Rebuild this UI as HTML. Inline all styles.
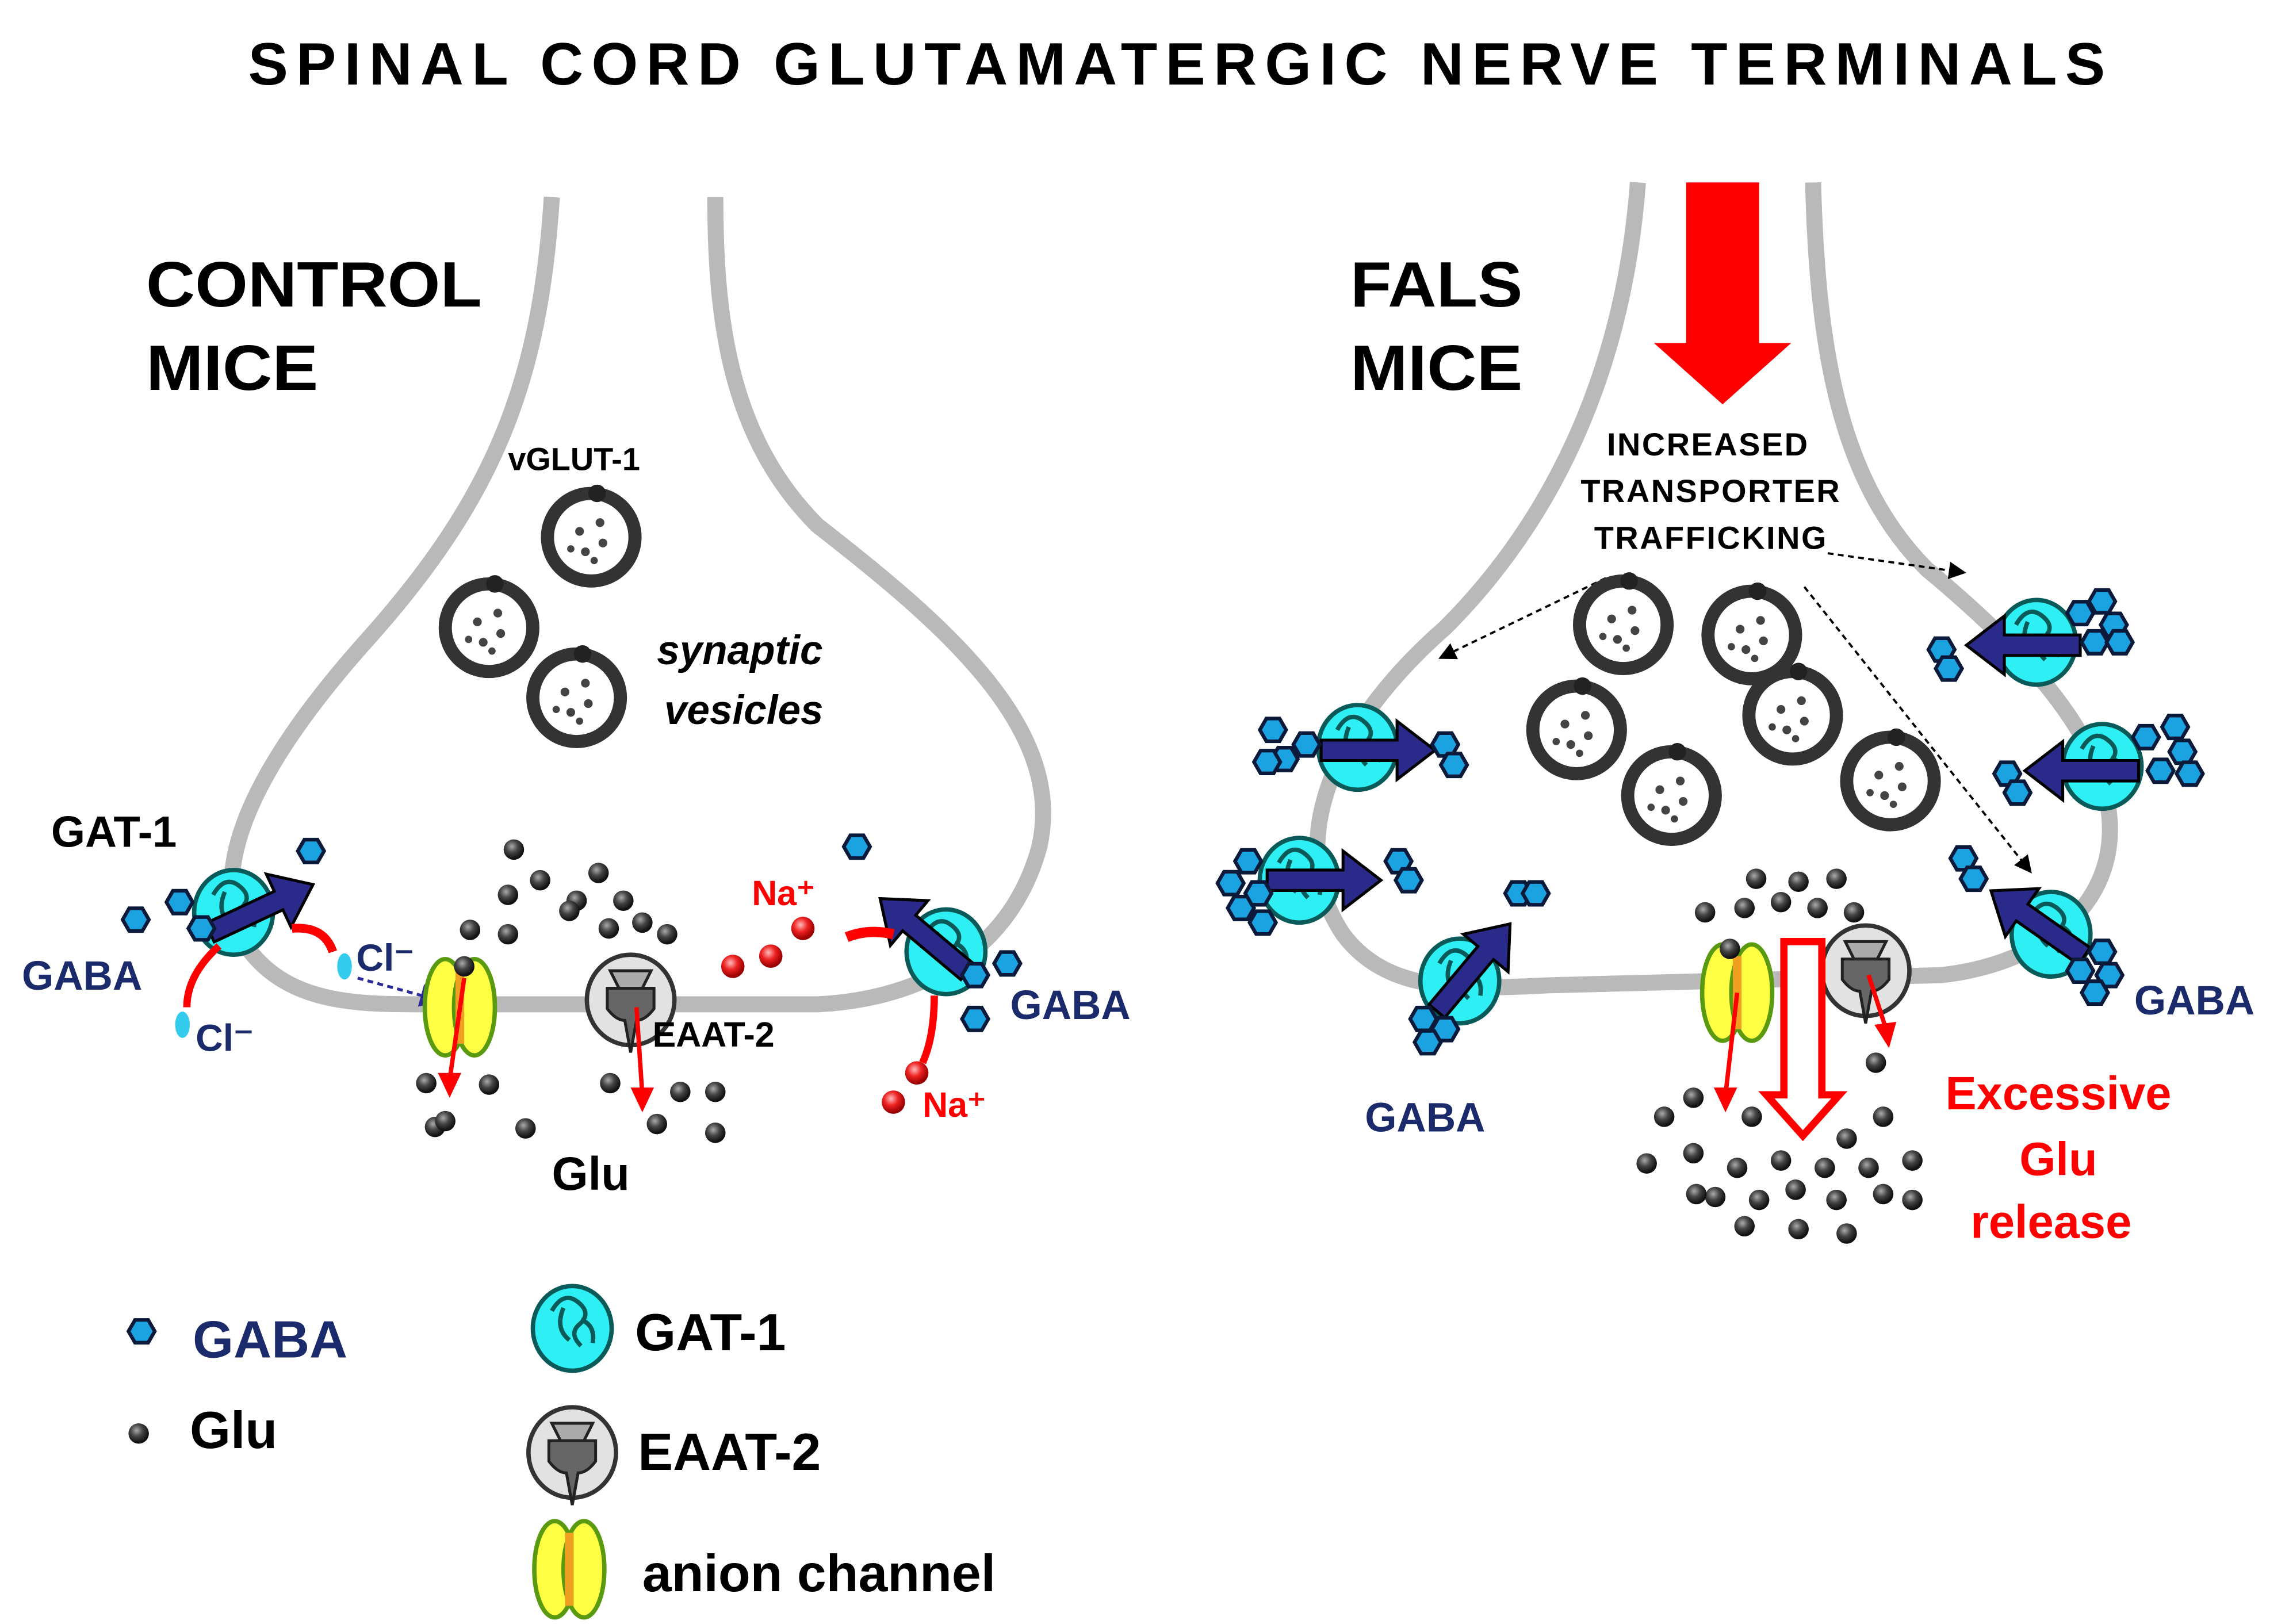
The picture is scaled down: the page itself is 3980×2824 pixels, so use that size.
<!DOCTYPE html>
<html><head><meta charset="utf-8"><style>
html,body{margin:0;padding:0;background:#fff}
svg{display:block}
text{font-family:"Liberation Sans",Arial,sans-serif;font-weight:bold}
</style></head><body>
<svg width="3980" height="2824" viewBox="0 0 1568 1112.5" preserveAspectRatio="none" xmlns="http://www.w3.org/2000/svg">
<defs>
<radialGradient id="gg" cx="40%" cy="35%" r="60%"><stop offset="0" stop-color="#aaa"/><stop offset="0.5" stop-color="#444"/><stop offset="1" stop-color="#111"/></radialGradient>
<radialGradient id="rg" cx="40%" cy="35%" r="60%"><stop offset="0" stop-color="#fbb"/><stop offset="0.5" stop-color="#e22"/><stop offset="1" stop-color="#900"/></radialGradient>
<g id="glu"><circle r="7" fill="url(#gg)"/></g>
<g id="na"><circle r="8" fill="url(#rg)"/></g>
<g id="gaba"><polygon points="9,0 4.5,7.8 -4.5,7.8 -9,0 -4.5,-7.8 4.5,-7.8" fill="#1aa3e0" stroke="#0b1a3a" stroke-width="2.5"/></g>
<g id="gat"><ellipse rx="27" ry="29" fill="#2ef0f4" stroke="#0a5a5a" stroke-width="3"/>
<path d="M-14,-12 q8,-14 18,-6 q10,8 0,16 q-6,6 2,14 M-6,-14 q-6,14 4,22 M6,-6 q10,4 8,16" fill="none" stroke="#0a5a5a" stroke-width="3"/></g>
<g id="eaat"><ellipse rx="30" ry="31" fill="#e2e2e2" stroke="#333" stroke-width="3"/>
<path d="M-14,-20 h28 l-6,12 h-16 z" fill="#aaa" stroke="#222" stroke-width="2"/>
<path d="M-16,-8 h32 v14 q-6,8 -12,8 l-4,22 l-4,-22 q-6,0 -12,-8 z" fill="#666" stroke="#222" stroke-width="2"/></g>
<g id="anion"><ellipse cx="-10" rx="14" ry="33" fill="#ffff44" stroke="#5a9a10" stroke-width="3"/><ellipse cx="10" rx="14" ry="33" fill="#ffff44" stroke="#5a9a10" stroke-width="3"/><rect x="-3" y="-25" width="6" height="50" fill="#f0a020"/></g>
<g id="ves"><circle r="30" fill="#fff" stroke="#333" stroke-width="9"/>
<circle cx="-8" cy="-4" r="3" fill="#444"/><circle cx="6" cy="-10" r="3" fill="#444"/><circle cx="8" cy="4" r="3" fill="#444"/><circle cx="-4" cy="10" r="3" fill="#444"/><circle cx="-14" cy="8" r="2.5" fill="#444"/><circle cx="2" cy="16" r="2.5" fill="#444"/>
<circle cx="4" cy="-30" r="6" fill="#222"/></g>
<marker id="ah" markerWidth="8" markerHeight="8" refX="6" refY="4" orient="auto"><path d="M0,0 L8,4 L0,8 z" fill="#000"/></marker>
<marker id="ahb" markerWidth="8" markerHeight="8" refX="6" refY="4" orient="auto"><path d="M0,0 L8,4 L0,8 z" fill="#2a2a9a"/></marker>
<g id="darr"><path d="M-40,-7 h52 v-13 l26,20 l-26,20 v-13 h-52 z" fill="#2a2a8a" stroke="#000" stroke-width="2"/></g>
</defs>

<text x="170" y="58" font-size="41" textLength="1272" lengthAdjust="spacing">SPINAL   CORD   GLUTAMATERGIC  NERVE   TERMINALS</text>

<path d="M378,135 C370,260 340,340 250,440 C170,530 140,600 170,650 C200,690 250,688 300,688 L560,688 C620,685 690,660 712,580 C730,500 650,430 560,360 C500,300 490,220 490,135" fill="none" stroke="#b9b9b9" stroke-width="11"/>
<path d="M1122,125 C1112,260 1060,360 990,430 C910,500 880,580 920,640 C950,680 1000,678 1060,675 L1330,668 C1400,660 1450,620 1445,560 C1440,500 1380,440 1320,390 C1260,330 1245,240 1242,125" fill="none" stroke="#b9b9b9" stroke-width="11"/>

<text x="100" y="210" font-size="44" textLength="230" lengthAdjust="spacingAndGlyphs">CONTROL</text>
<text x="100" y="267" font-size="44" textLength="118" lengthAdjust="spacingAndGlyphs">MICE</text>
<text x="925" y="210" font-size="44" textLength="118" lengthAdjust="spacingAndGlyphs">FALS</text>
<text x="925" y="267" font-size="44" textLength="118" lengthAdjust="spacingAndGlyphs">MICE</text>

<text x="348" y="322" font-size="22" style="font-weight:600">vGLUT-1</text>
<use href="#ves" x="405" y="368"/><use href="#ves" x="335" y="430"/><use href="#ves" x="395" y="478"/>
<text x="450" y="455" font-size="28" font-style="italic">synaptic</text>
<text x="455" y="496" font-size="28" font-style="italic">vesicles</text>

<text x="35" y="580" font-size="30">GAT-1</text>
<use href="#gat" x="160" y="625"/>
<g transform="translate(180,622) rotate(-25)"><use href="#darr"/></g>
<use href="#gaba" x="213" y="583"/><use href="#gaba" x="93" y="630"/><use href="#gaba" x="123" y="618"/><use href="#gaba" x="138" y="636"/>
<text x="15" y="678" font-size="28" fill="#1a2a6a">GABA</text>
<path d="M200,636 Q222,634 228,652" fill="none" stroke="#f00" stroke-width="6"/>
<path d="M150,648 Q128,668 128,690" fill="none" stroke="#f00" stroke-width="5"/>
<ellipse cx="236" cy="662" rx="5" ry="9" fill="#33ccee"/><text x="244" y="665" font-size="26" font-weight="normal" fill="#1a2a6a">Cl⁻</text>
<ellipse cx="125" cy="702" rx="5" ry="9" fill="#33ccee"/><text x="134" y="720" font-size="26" font-weight="normal" fill="#1a2a6a">Cl⁻</text>
<path d="M245,670 L300,685" stroke="#2a2a9a" stroke-width="2" stroke-dasharray="4,3" marker-end="url(#ahb)"/>

<use href="#anion" x="315" y="690"/>
<use href="#glu" x="318" y="662"/>
<path d="M318,670 L308,740" stroke="#f00" stroke-width="3"/><path d="M300,735 L308,752 L316,735 z" fill="#f00"/>
<use href="#eaat" x="432" y="685"/>
<path d="M436,690 L440,750" stroke="#f00" stroke-width="3"/><path d="M432,745 L440,762 L448,745 z" fill="#f00"/>
<text x="447" y="717" font-size="24" style="font-weight:600">EAAT-2</text>

<g>
<use href="#glu" x="352" y="582"/><use href="#glu" x="322" y="637"/><use href="#glu" x="348" y="613"/><use href="#glu" x="370" y="603"/><use href="#glu" x="395" y="617"/><use href="#glu" x="410" y="598"/><use href="#glu" x="427" y="617"/><use href="#glu" x="348" y="640"/><use href="#glu" x="417" y="636"/><use href="#glu" x="440" y="632"/><use href="#glu" x="457" y="640"/><use href="#glu" x="390" y="624"/>
<use href="#glu" x="292" y="742"/><use href="#glu" x="335" y="743"/><use href="#glu" x="418" y="742"/><use href="#glu" x="466" y="748"/><use href="#glu" x="490" y="748"/><use href="#glu" x="298" y="772"/><use href="#glu" x="305" y="768"/><use href="#glu" x="360" y="773"/><use href="#glu" x="450" y="770"/><use href="#glu" x="490" y="776"/>
</g>
<text x="378" y="815" font-size="32">Glu</text>

<use href="#gat" x="648" y="652"/>
<g transform="translate(632,640) rotate(-140)"><use href="#darr"/></g>
<use href="#gaba" x="587" y="580"/><use href="#gaba" x="690" y="660"/><use href="#gaba" x="668" y="698"/><use href="#gaba" x="668" y="668"/>
<text x="692" y="698" font-size="28" fill="#1a2a6a">GABA</text>
<text x="515" y="620" font-size="24" font-weight="normal" fill="#f00">Na⁺</text>
<use href="#na" x="550" y="636"/><use href="#na" x="528" y="655"/><use href="#na" x="502" y="662"/>
<path d="M612,640 Q595,636 580,642" fill="none" stroke="#f00" stroke-width="7"/>
<path d="M640,682 Q640,710 632,728" fill="none" stroke="#f00" stroke-width="5"/>
<use href="#na" x="628" y="735"/><use href="#na" x="612" y="755"/>
<text x="632" y="765" font-size="24" font-weight="normal" fill="#f00">Na⁺</text>

<use href="#gaba" x="97" y="912"/><text x="132" y="930" font-size="36" fill="#1a2a6a">GABA</text>
<use href="#glu" x="95" y="982"/><text x="130" y="992" font-size="36">Glu</text>
<use href="#gat" x="392" y="910"/><text x="435" y="925" font-size="36">GAT-1</text>
<use href="#eaat" x="392" y="995"/><text x="437" y="1007" font-size="36">EAAT-2</text>
<use href="#anion" x="390" y="1075"/><text x="440" y="1090" font-size="36">anion channel</text>

<path d="M1155,125 h50 v110 h22 l-47,42 l-47,-42 h22 z" fill="#f00"/>
<text x="1170" y="312" font-size="22" text-anchor="middle" letter-spacing="1" style="font-weight:600">INCREASED</text>
<text x="1172" y="344" font-size="22" text-anchor="middle" letter-spacing="1" style="font-weight:600">TRANSPORTER</text>
<text x="1172" y="376" font-size="22" text-anchor="middle" letter-spacing="1" style="font-weight:600">TRAFFICKING</text>
<path d="M1100,396 L988,450" stroke="#000" stroke-width="1.5" stroke-dasharray="4,3" marker-end="url(#ah)"/>
<path d="M1252,379 L1344,392" stroke="#000" stroke-width="1.5" stroke-dasharray="4,3" marker-end="url(#ah)"/>
<path d="M1236,402 L1390,596" stroke="#000" stroke-width="1.5" stroke-dasharray="4,3" marker-end="url(#ah)"/>

<use href="#ves" x="1112" y="428"/><use href="#ves" x="1200" y="435"/><use href="#ves" x="1080" y="500"/><use href="#ves" x="1145" y="545"/><use href="#ves" x="1228" y="490"/><use href="#ves" x="1295" y="535"/>

<use href="#gat" x="930" y="512"/><g transform="translate(945,514)"><use href="#darr"/></g>
<use href="#gaba" x="872" y="500"/><use href="#gaba" x="880" y="520"/><use href="#gaba" x="895" y="510"/><use href="#gaba" x="868" y="522"/><use href="#gaba" x="990" y="510"/><use href="#gaba" x="996" y="524"/>
<use href="#gat" x="890" y="603"/><g transform="translate(908,603)"><use href="#darr"/></g>
<use href="#gaba" x="843" y="605"/><use href="#gaba" x="855" y="590"/><use href="#gaba" x="850" y="622"/><use href="#gaba" x="865" y="632"/><use href="#gaba" x="862" y="612"/><use href="#gaba" x="958" y="590"/><use href="#gaba" x="965" y="603"/>
<use href="#gat" x="1000" y="672"/><g transform="translate(1010,662) rotate(-50)"><use href="#darr"/></g>
<use href="#gaba" x="1040" y="612"/><use href="#gaba" x="1052" y="612"/><use href="#gaba" x="975" y="698"/><use href="#gaba" x="990" y="705"/><use href="#gaba" x="978" y="714"/>
<text x="935" y="775" font-size="28" fill="#1a2a6a">GABA</text>

<use href="#gat" x="1395" y="440"/><g transform="translate(1385,442) rotate(180)"><use href="#darr"/></g>
<use href="#gaba" x="1330" y="445"/><use href="#gaba" x="1335" y="458"/><use href="#gaba" x="1425" y="420"/><use href="#gaba" x="1440" y="412"/><use href="#gaba" x="1448" y="428"/><use href="#gaba" x="1435" y="440"/><use href="#gaba" x="1452" y="440"/>
<use href="#gat" x="1440" y="525"/><g transform="translate(1425,528) rotate(180)"><use href="#darr"/></g>
<use href="#gaba" x="1375" y="530"/><use href="#gaba" x="1382" y="543"/><use href="#gaba" x="1470" y="505"/><use href="#gaba" x="1490" y="498"/><use href="#gaba" x="1495" y="515"/><use href="#gaba" x="1480" y="528"/><use href="#gaba" x="1500" y="530"/>
<use href="#gat" x="1405" y="640"/><g transform="translate(1395,632) rotate(-145)"><use href="#darr"/></g>
<use href="#gaba" x="1345" y="588"/><use href="#gaba" x="1352" y="602"/><use href="#gaba" x="1440" y="652"/><use href="#gaba" x="1425" y="665"/><use href="#gaba" x="1445" y="668"/><use href="#gaba" x="1435" y="680"/>
<text x="1462" y="695" font-size="28" fill="#1a2a6a">GABA</text>

<use href="#anion" x="1190" y="680"/>
<path d="M1190,680 L1182,750" stroke="#f00" stroke-width="3"/><path d="M1174,745 L1182,762 L1190,745 z" fill="#f00"/>
<use href="#eaat" x="1278" y="665"/>
<path d="M1280,668 L1292,705" stroke="#f00" stroke-width="3"/><path d="M1284,702 L1294,718 L1299,700 z" fill="#f00"/>
<path d="M1222,645 h26 v105 h12 l-25,28 l-25,-28 h12 z" fill="#fff" stroke="#f00" stroke-width="5"/>

<g>
<use href="#glu" x="1203" y="602"/><use href="#glu" x="1232" y="604"/><use href="#glu" x="1258" y="602"/><use href="#glu" x="1168" y="625"/><use href="#glu" x="1195" y="622"/><use href="#glu" x="1220" y="618"/><use href="#glu" x="1245" y="622"/><use href="#glu" x="1270" y="625"/><use href="#glu" x="1185" y="650"/>
<use href="#glu" x="1285" y="728"/><use href="#glu" x="1160" y="752"/><use href="#glu" x="1140" y="765"/><use href="#glu" x="1200" y="765"/><use href="#glu" x="1290" y="765"/><use href="#glu" x="1265" y="780"/><use href="#glu" x="1128" y="797"/><use href="#glu" x="1160" y="790"/><use href="#glu" x="1190" y="800"/><use href="#glu" x="1220" y="795"/><use href="#glu" x="1250" y="800"/><use href="#glu" x="1280" y="800"/><use href="#glu" x="1310" y="795"/><use href="#glu" x="1175" y="820"/><use href="#glu" x="1205" y="822"/><use href="#glu" x="1230" y="815"/><use href="#glu" x="1258" y="822"/><use href="#glu" x="1290" y="818"/><use href="#glu" x="1162" y="818"/><use href="#glu" x="1195" y="840"/><use href="#glu" x="1232" y="842"/><use href="#glu" x="1265" y="845"/><use href="#glu" x="1310" y="822"/>
</g>
<text x="1410" y="760" font-size="32" fill="#f00" text-anchor="middle">Excessive</text>
<text x="1410" y="805" font-size="32" fill="#f00" text-anchor="middle">Glu</text>
<text x="1405" y="848" font-size="32" fill="#f00" text-anchor="middle">release</text>
</svg>
</body></html>
